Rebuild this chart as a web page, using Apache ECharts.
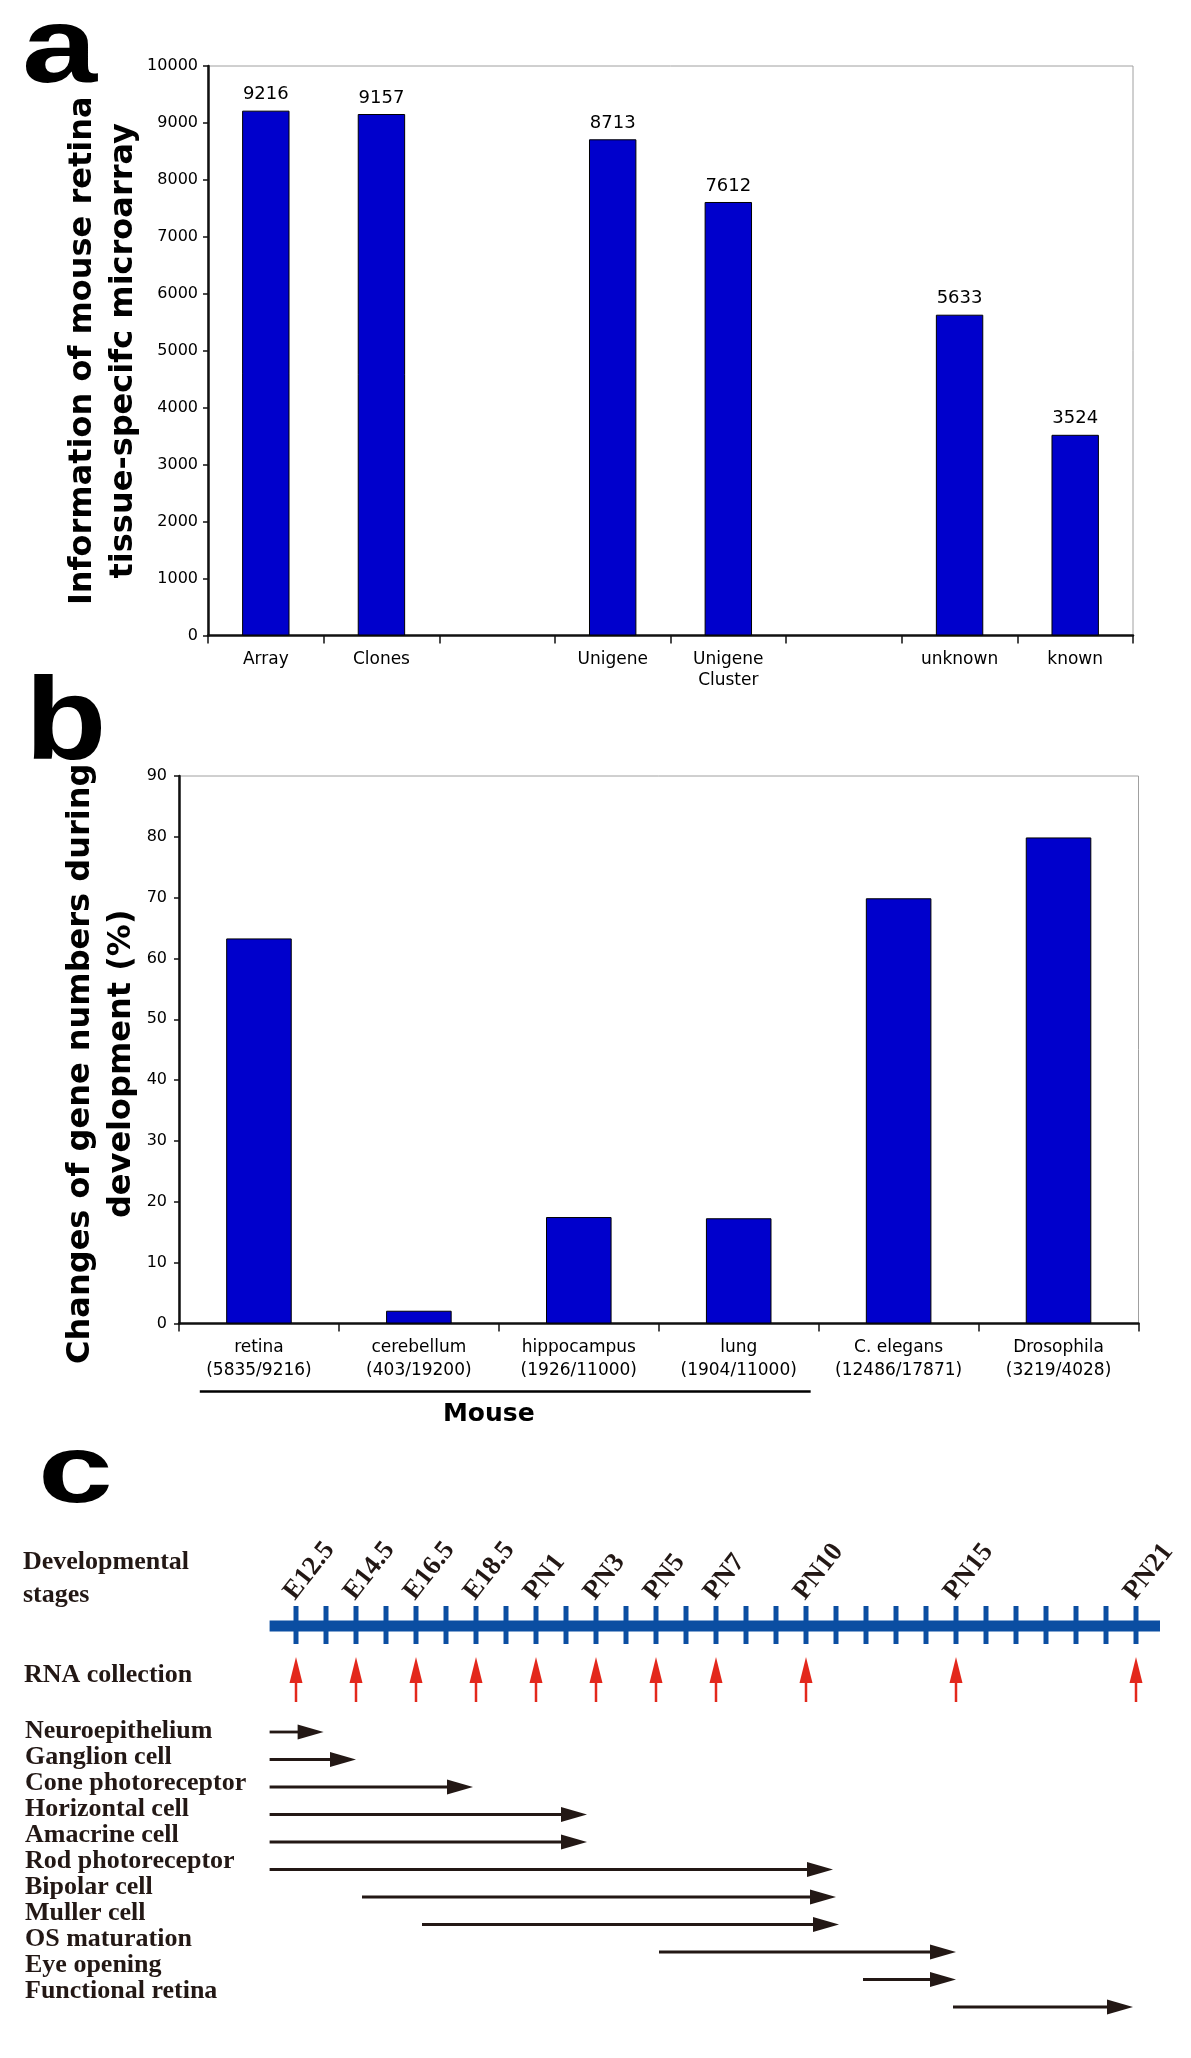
<!DOCTYPE html>
<html>
<head>
<meta charset="utf-8">
<script src="https://cdn.jsdelivr.net/npm/echarts@6/dist/echarts.min.js"></script>
<style>
html, body { margin: 0; padding: 0; background: #fff; }
#main { width: 1191px; height: 2058px; }
</style>
</head>
<body>
<div id="main"></div>
<script>
// a: microarray content
const arrayCats = ['Array', 'Clones', '', 'Unigene', 'Unigene\nCluster', '', 'unknown', 'known'];
const arrayCounts = [9216, 9157, null, 8713, 7612, null, 5633, 3524];

// b: % of genes changing during development
const tissueCats = ['retina\n(5835/9216)', 'cerebellum\n(403/19200)', 'hippocampus\n(1926/11000)',
  'lung\n(1904/11000)', 'C. elegans\n(12486/17871)', 'Drosophila\n(3219/4028)'];
const changePct = [63.3, 2.1, 17.5, 17.3, 69.9, 79.9];
const mouseGroup = [[0, 3, 0]]; // retina .. lung

// c: timeline, in days after E12.5
const timelineSpan = [-0.88, 28.8];
const dayTicks = [0, 1, 2, 3, 4, 5, 6, 7, 8, 9, 10, 11, 12, 13, 14, 15, 16, 17, 18, 19, 20, 21, 22, 23, 24, 25, 26, 27, 28];
const stageNames = ['E12.5', 'E14.5', 'E16.5', 'E18.5', 'PN1', 'PN3', 'PN5', 'PN7', 'PN10', 'PN15', 'PN21'];
const stageDays = [0, 2, 4, 6, 8, 10, 12, 14, 17, 22, 28];
const cellTypes = ['Neuroepithelium', 'Ganglion cell', 'Cone photoreceptor', 'Horizontal cell', 'Amacrine cell',
  'Rod photoreceptor', 'Bipolar cell', 'Muller cell', 'OS maturation', 'Eye opening', 'Functional retina'];
const cellStart = [-0.88, -0.88, -0.88, -0.88, -0.88, -0.88, 2.2, 4.2, 12.1, 18.9, 21.9];
const cellEnd = [0.92, 2.0, 5.9, 9.7, 9.7, 17.9, 18.0, 18.1, 22.0, 22.0, 27.9];

const BLUE = '#0000cc';
const LINE_BLUE = '#0b4ea2';
const RED = '#e3281c';
const DARK = '#231815';
const SANS = 'DejaVu Sans';
const SERIF = 'Liberation Serif';

const chart = echarts.init(document.getElementById('main'));

function frameAxisX(idx, cats, fontSize, lineHeight, margin) {
  return {
    type: 'category', gridIndex: idx, data: cats,
    axisLine: { lineStyle: { color: '#111', width: 2.5 } },
    axisTick: { show: true, length: 8, lineStyle: { color: '#111', width: 1.5 } },
    axisLabel: { color: '#000', fontFamily: SANS, fontSize: fontSize, lineHeight: lineHeight, margin: margin, interval: 0 },
    splitLine: { show: false }
  };
}
function frameAxisY(idx, max, interval, margin, name, nameGap, pad) {
  return {
    type: 'value', gridIndex: idx, min: 0, max: max, interval: interval,
    name: name, nameLocation: 'middle', nameGap: nameGap, nameMoveOverlap: false,
    nameTextStyle: { color: '#000', fontFamily: SANS, fontWeight: 'bold', fontSize: 32, lineHeight: 41, padding: pad },
    axisLine: { show: true, lineStyle: { color: '#111', width: 2.5 } },
    axisTick: { show: true, length: 5, lineStyle: { color: '#111', width: 1.5 } },
    axisLabel: { color: '#000', fontFamily: SANS, fontSize: 16, margin: margin, formatter: v => String(v) },
    splitLine: { show: false }
  };
}
function hiddenValue(idx, min, max) {
  return { type: 'value', gridIndex: idx, min: min, max: max, show: false };
}

function renderBar(params, api) {
  const a = api.coord([api.value(0), 0]);
  const b = api.coord([api.value(1), 0]);
  return { type: 'rect', shape: { x: a[0], y: a[1] - 5.5, width: b[0] - a[0], height: 11 }, style: { fill: LINE_BLUE } };
}
function renderTick(params, api) {
  const p = api.coord([api.value(0), 0]);
  return { type: 'rect', shape: { x: p[0] - 2.5, y: p[1] - 20, width: 5, height: 38 }, style: { fill: LINE_BLUE } };
}
function renderStage(params, api) {
  const p = api.coord([api.value(0), 0]);
  return {
    type: 'text', x: p[0] + 4, y: p[1] - 21, rotation: 52 * Math.PI / 180,
    style: { text: stageNames[params.dataIndex], fontFamily: SERIF, fontWeight: 'bold', fontSize: 27,
      fill: DARK, align: 'left', verticalAlign: 'bottom' }
  };
}
function renderRna(params, api) {
  const p = api.coord([api.value(0), 0]);
  return {
    type: 'group', children: [
      { type: 'line', shape: { x1: p[0], y1: p[1] + 55, x2: p[0], y2: p[1] + 76 }, style: { stroke: RED, lineWidth: 2.5 } },
      { type: 'polygon', shape: { points: [[p[0], p[1] + 31], [p[0] - 6.5, p[1] + 57], [p[0] + 6.5, p[1] + 57]] }, style: { fill: RED } }
    ]
  };
}
function renderCell(params, api) {
  const a = api.coord([api.value(0), api.value(2)]);
  const b = api.coord([api.value(1), api.value(2)]);
  const head = 26, hw = 7.5;
  return {
    type: 'group', children: [
      { type: 'line', shape: { x1: a[0], y1: a[1], x2: b[0] - head + 2, y2: b[1] }, style: { stroke: DARK, lineWidth: 2.8 } },
      { type: 'polygon', shape: { points: [[b[0], b[1]], [b[0] - head, b[1] - hw], [b[0] - head, b[1] + hw]] }, style: { fill: DARK } }
    ]
  };
}
function renderMouse(params, api) {
  const a = api.coord([api.value(0), 0]);
  const b = api.coord([api.value(1), 0]);
  const slot = api.size([1, 0])[0];
  const x1 = a[0] - slot * 0.37, x2 = b[0] + slot * 0.45;
  return {
    type: 'group', children: [
      { type: 'line', shape: { x1: x1, y1: a[1] + 68, x2: x2, y2: a[1] + 68 }, style: { stroke: '#000', lineWidth: 2.5 } },
      { type: 'text', x: (a[0] + b[0]) / 2 - 10, y: a[1] + 91,
        style: { text: 'Mouse', fontFamily: SANS, fontWeight: 'bold', fontSize: 25, fill: '#000', align: 'center', verticalAlign: 'middle' } }
    ]
  };
}

const textEl = (txt, x, y, font, size, weight, color, sx) => ({
  type: 'text', x: x, y: y, scaleX: sx || 1,
  style: { text: txt, fontFamily: font, fontSize: size, fontWeight: weight, fill: color, align: 'left', verticalAlign: 'middle' }
});

chart.setOption({
  animation: false,
  backgroundColor: '#fff',
  grid: [
    { left: 208, top: 66, width: 925, height: 569.5, show: true, borderColor: '#a0a0a0', borderWidth: 1, backgroundColor: 'transparent' },
    { left: 179, top: 776, width: 959.5, height: 547.5, show: true, borderColor: '#a0a0a0', borderWidth: 1, backgroundColor: 'transparent' },
    { left: 266, top: 1526, width: 900, height: 200 },
    { left: 266, top: 1718.25, width: 900, height: 302.5 },
    { left: 266, top: 1718, width: 900, height: 286 }
  ],
  xAxis: [
    frameAxisX(0, arrayCats, 17, 21, 14),
    frameAxisX(1, tissueCats, 17, 23, 13),
    hiddenValue(2, -1, 29),
    hiddenValue(3, -1, 29),
    hiddenValue(4, -1, 29)
  ],
  yAxis: [
    frameAxisY(0, 10000, 1000, 10, 'Information of mouse retina\ntissue-specifc microarray', 64, [0, 0, 0, 0]),
    frameAxisY(1, 90, 10, 12, 'Changes of gene numbers during\ndevelopment (%)', 37, [0, 28, 0, 0]),
    hiddenValue(2, -1, 1),
    { type: 'category', gridIndex: 3, data: cellTypes, inverse: true, show: false },
    {
      type: 'category', gridIndex: 4, data: cellTypes, inverse: true,
      axisLine: { show: false }, axisTick: { show: false }, splitLine: { show: false },
      axisLabel: { interval: 0, align: 'left', margin: 241, color: DARK, fontFamily: SERIF, fontWeight: 'bold', fontSize: 26 }
    }
  ],
  graphic: [
    textEl('a', 22, 52, 'Liberation Sans', 108, 'bold', '#000', 1.25),
    textEl('b', 25, 727, 'Liberation Sans', 116, 'bold', '#000', 1.15),
    textEl('c', 38, 1476, 'Liberation Sans', 96, 'bold', '#000', 1.4),
    textEl('Developmental', 23, 1562, SERIF, 26, 'bold', DARK),
    textEl('stages', 23, 1595, SERIF, 26, 'bold', DARK),
    textEl('RNA collection', 24, 1675, SERIF, 26, 'bold', DARK)
  ],
  series: [
    {
      type: 'bar', xAxisIndex: 0, yAxisIndex: 0, data: arrayCounts, barWidth: '41%',
      itemStyle: { color: BLUE, borderColor: '#000', borderWidth: 1 },
      label: { show: true, position: 'top', distance: 7, color: '#000', fontFamily: SANS, fontSize: 18 }
    },
    {
      type: 'bar', xAxisIndex: 1, yAxisIndex: 1, data: changePct, barWidth: '41%',
      itemStyle: { color: BLUE, borderColor: '#000', borderWidth: 1 }
    },
    {
      type: 'custom', xAxisIndex: 1, yAxisIndex: 1, data: mouseGroup, encode: { x: [0, 1], y: 2 },
      renderItem: renderMouse, clip: false, silent: true
    },
    {
      type: 'custom', xAxisIndex: 2, yAxisIndex: 2, data: [[timelineSpan[0], timelineSpan[1], 0]],
      encode: { x: [0, 1], y: 2 }, renderItem: renderBar, clip: false, silent: true
    },
    {
      type: 'custom', xAxisIndex: 2, yAxisIndex: 2, data: dayTicks.map(d => [d, 0]),
      encode: { x: 0, y: 1 }, renderItem: renderTick, clip: false, silent: true
    },
    {
      type: 'custom', xAxisIndex: 2, yAxisIndex: 2, data: stageDays.map(d => [d, 0]),
      encode: { x: 0, y: 1 }, renderItem: renderStage, clip: false, silent: true
    },
    {
      type: 'custom', xAxisIndex: 2, yAxisIndex: 2, data: stageDays.map(d => [d, 0]),
      encode: { x: 0, y: 1 }, renderItem: renderRna, clip: false, silent: true
    },
    {
      type: 'custom', xAxisIndex: 3, yAxisIndex: 3, data: cellTypes.map((c, i) => [cellStart[i], cellEnd[i], i]),
      encode: { x: [0, 1], y: 2 }, renderItem: renderCell, clip: false, silent: true
    }
  ]
});
</script>
</body>
</html>
